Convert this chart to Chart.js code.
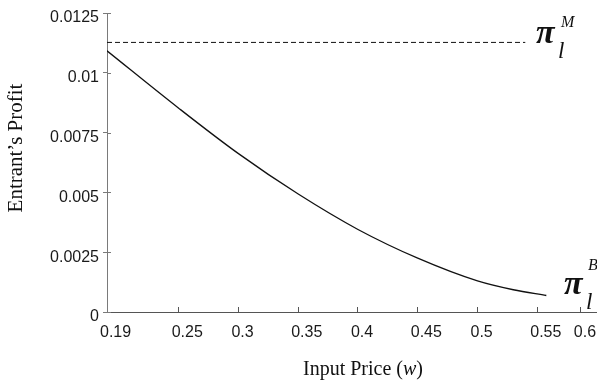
<!DOCTYPE html>
<html>
<head>
<meta charset="utf-8">
<script src="https://cdn.jsdelivr.net/npm/chart.js@4.4.1/dist/chart.umd.min.js"></script>
<style>
  html, body { margin: 0; padding: 0; background: #ffffff; }
  #wrap { position: relative; width: 597px; height: 383px; }
</style>
</head>
<body>
<div id="wrap"><canvas id="c"></canvas></div>
<script>
// ---- data ----
const inputPrice = [0.19, 0.25, 0.30, 0.35, 0.40, 0.45, 0.50, 0.53, 0.5576];
const entrantProfitB = [0.01092, 0.00852, 0.00662, 0.00493, 0.00345, 0.00225, 0.00130, 0.00093, 0.00069];
const monopolyPrice = [0.19, 0.54];
const entrantProfitM = [0.01127, 0.01127];

const xTickValues = [0.19, 0.25, 0.3, 0.35, 0.4, 0.45, 0.5, 0.55, 0.5865];
const xTickLabels = ['0.19', '0.25', '0.3', '0.35', '0.4', '0.45', '0.5', '0.55', '0.6'];
const yTickValues = [0, 0.0025, 0.005, 0.0075, 0.01, 0.0125];
const yTickLabels = ['0', '0.0025', '0.005', '0.0075', '0.01', '0.0125'];

const xTitle = ['Input Price (', 'w', ')'];
const yTitle = 'Entrant\u2019s Profit';
const seriesLabels = [{ main: '\u03C0', sub: 'l', sup: 'M' }, { main: '\u03C0', sub: 'l', sup: 'B' }];

const curvePoints = inputPrice.map((x, i) => ({ x: x, y: entrantProfitB[i] }));
const dashPoints = monopolyPrice.map((x, i) => ({ x: x, y: entrantProfitM[i] }));

const SERIF = '"Liberation Serif", "Times New Roman", serif';
const SANS = '"Liberation Sans", Arial, sans-serif';

const annotate = {
  id: 'annotate',
  afterDraw(chart) {
    const ctx = chart.ctx;
    const xs = chart.scales.x, ys = chart.scales.y;
    ctx.save();
    // inward half of the y tick marks
    ctx.strokeStyle = '#7a7a7a';
    ctx.lineWidth = 1;
    ys.ticks.forEach(t => {
      const py = Math.round(ys.getPixelForValue(t.value)) + 0.5;
      ctx.beginPath();
      ctx.moveTo(xs.left, py);
      ctx.lineTo(xs.left + 4, py);
      ctx.stroke();
    });
    ctx.fillStyle = '#111';
    // y title
    ctx.save();
    ctx.translate(16, 148);
    ctx.rotate(-Math.PI / 2);
    ctx.font = '21px ' + SERIF;
    ctx.textAlign = 'center';
    ctx.textBaseline = 'middle';
    ctx.fillText(yTitle, 0, 0);
    ctx.restore();
    // x title
    ctx.textBaseline = 'alphabetic';
    ctx.textAlign = 'left';
    const fN = '20px ' + SERIF, fI = 'italic 20px ' + SERIF;
    ctx.font = fN; const w0 = ctx.measureText(xTitle[0]).width;
    ctx.font = fI; const w1 = ctx.measureText(xTitle[1]).width;
    ctx.font = fN; const w2 = ctx.measureText(xTitle[2]).width;
    let tx = 363 - (w0 + w1 + w2) / 2;
    const ty = 375;
    ctx.font = fN; ctx.fillText(xTitle[0], tx, ty); tx += w0;
    ctx.font = fI; ctx.fillText(xTitle[1], tx, ty); tx += w1;
    ctx.font = fN; ctx.fillText(xTitle[2], tx, ty);
    // series labels
    const drawLabel = (lab, x, yBase, supDx, supDy) => {
      ctx.font = 'bold italic 34px ' + SERIF;
      ctx.fillText(lab.main, x, yBase);
      ctx.font = 'italic 23px ' + SERIF;
      ctx.fillText(lab.sub, x + 22, yBase + 15);
      ctx.font = 'italic 16px ' + SERIF;
      ctx.fillText(lab.sup, x + supDx, yBase + supDy);
    };
    drawLabel(seriesLabels[0], 536, 43, 25, -16);
    drawLabel(seriesLabels[1], 564, 294, 24, -24);
    ctx.restore();
  }
};

new Chart(document.getElementById('c'), {
  type: 'line',
  data: {
    datasets: [
      { data: curvePoints, borderColor: '#111', borderWidth: 1.3, pointRadius: 0, cubicInterpolationMode: 'monotone', fill: false },
      { data: dashPoints, borderColor: '#111', borderWidth: 1, borderDash: [5, 3], pointRadius: 0, fill: false }
    ]
  },
  options: {
    responsive: true,
    maintainAspectRatio: false,
    animation: false,
    events: [],
    layout: { padding: { top: 13, left: 0, right: 0, bottom: 0 } },
    plugins: { legend: { display: false }, tooltip: { enabled: false } },
    scales: {
      x: {
        type: 'linear',
        min: 0.19,
        max: 0.6,
        afterBuildTicks: s => { s.ticks = xTickValues.map(v => ({ value: v })); },
        afterFit: s => { s.height = 71; s.paddingLeft = 0; s.paddingRight = 0; },
        border: { display: true, color: '#555', width: 1 },
        grid: { display: true, drawOnChartArea: false, drawTicks: true, tickLength: -5, color: '#555' },
        ticks: {
          autoSkip: false, maxRotation: 0, minRotation: 0,
          align: 'start', labelOffset: -7, padding: 16,
          color: '#1a1a1a', font: { family: SANS, size: 16 },
          callback: (v, i) => xTickLabels[i]
        }
      },
      y: {
        type: 'linear',
        min: 0,
        max: 0.0125,
        afterBuildTicks: s => { s.ticks = yTickValues.map(v => ({ value: v })); },
        afterFit: s => { s.width = 107; s.paddingTop = 0; s.paddingBottom = 0; },
        border: { display: true, color: '#7a7a7a', width: 1 },
        grid: { display: true, drawOnChartArea: false, drawTicks: true, tickLength: 4, color: '#7a7a7a' },
        ticks: {
          autoSkip: false, padding: 4, labelOffset: 5,
          color: '#1a1a1a', font: { family: SANS, size: 16 },
          callback: (v, i) => yTickLabels[i]
        }
      }
    }
  },
  plugins: [annotate]
});
</script>
</body>
</html>
